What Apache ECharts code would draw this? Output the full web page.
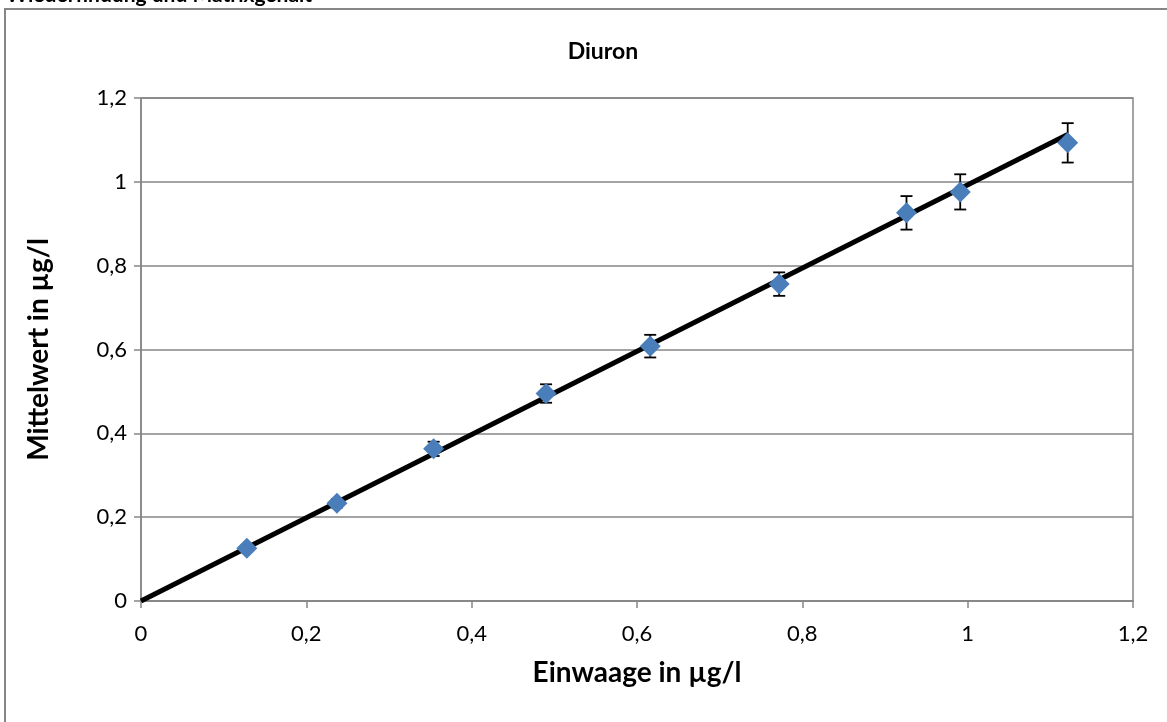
<!DOCTYPE html>
<html>
<head>
<meta charset="utf-8">
<script src="https://cdn.jsdelivr.net/npm/echarts@6/dist/echarts.min.js"></script>
<style>
html,body{margin:0;padding:0;background:#fff;}
#chart{width:1167px;height:722px;}
</style>
</head>
<body>
<div id="chart"></div>
<script>
// Data
const einwaage = [0.128, 0.237, 0.354, 0.490, 0.616, 0.772, 0.926, 0.991, 1.121];
const mittelwert = [0.126, 0.233, 0.363, 0.495, 0.608, 0.756, 0.926, 0.976, 1.093];
const fehler = [0.008, 0.010, 0.017, 0.022, 0.027, 0.028, 0.040, 0.042, 0.047];
const trendX = [0, 1.121];
const trendY = [0, 1.113];
const axisTicks = [0, 0.2, 0.4, 0.6, 0.8, 1, 1.2];
const titleText = 'Diuron';
const topText = 'Wiederfindung und Matrixgehalt';
const xName = 'Einwaage in µg/l';
const yName = 'Mittelwert in µg/l';

const FONT = 'Lato, "Open Sans", sans-serif';
const fmt = v => String(Math.round(v * 10) / 10).replace('.', ',');

const points = einwaage.map((x, i) => [x, mittelwert[i]]);
const errData = einwaage.map((x, i) => [x, mittelwert[i] - fehler[i], mittelwert[i] + fehler[i]]);
const trendData = trendX.map((x, i) => [x, trendY[i]]);

const chart = echarts.init(document.getElementById('chart'), null, {renderer: 'canvas'});
const axisCommon = {
  type: 'value', min: axisTicks[0], max: axisTicks[axisTicks.length - 1], interval: 0.2,
  axisLine: {show: true, onZero: false, lineStyle: {color: '#868686', width: 1.5}},
  axisTick: {show: true, length: 7, lineStyle: {color: '#868686', width: 1.5}},
  axisLabel: {color: '#000', fontFamily: FONT, fontSize: 22, formatter: fmt},
  nameLocation: 'middle',
  nameTextStyle: {color: '#000', fontFamily: FONT, fontSize: 28, fontWeight: 'bold'}
};
chart.setOption({
  animation: false,
  backgroundColor: '#fff',
  title: {text: titleText, left: 598, top: 35, textAlign: 'center',
    textStyle: {fontFamily: FONT, fontSize: 23, fontWeight: 'bold', color: '#000'}},
  grid: {left: 141, right: 34, top: 98, bottom: 121},
  xAxis: Object.assign({}, axisCommon, {
    name: xName, nameGap: 58,
    splitLine: {show: false},
    axisLabel: Object.assign({}, axisCommon.axisLabel, {margin: 22})
  }),
  yAxis: Object.assign({}, axisCommon, {
    name: yName, nameGap: 88,
    splitLine: {show: true, lineStyle: {color: '#868686', width: 1.5}},
    axisLabel: Object.assign({}, axisCommon.axisLabel, {margin: 14})
  }),
  graphic: [
    {type: 'rect', shape: {x: 5, y: 9, width: 1300, height: 900},
      style: {fill: 'none', stroke: '#868686', lineWidth: 2}, z: -10, silent: true},
    {type: 'rect', shape: {x: 141, y: 98, width: 992, height: 503},
      style: {fill: 'none', stroke: '#868686', lineWidth: 1.5}, z: 0, silent: true},
    {type: 'text', left: 6, top: -15,
      style: {text: topText, fontFamily: FONT, fontSize: 21, fontWeight: 'bold', fill: '#000'}}
  ],
  series: [
    {type: 'line', data: trendData, showSymbol: false, symbol: 'none',
      lineStyle: {color: '#000', width: 5}, z: 2, silent: true},
    {type: 'custom', data: errData, z: 3, silent: true,
      renderItem: (params, api) => {
        const x = api.value(0);
        const top = api.coord([x, api.value(2)]);
        const bot = api.coord([x, api.value(1)]);
        const w = 6;
        const st = {stroke: '#000', lineWidth: 1.8};
        return {type: 'group', children: [
          {type: 'line', shape: {x1: top[0], y1: top[1], x2: bot[0], y2: bot[1]}, style: st},
          {type: 'line', shape: {x1: top[0] - w, y1: top[1], x2: top[0] + w, y2: top[1]}, style: st},
          {type: 'line', shape: {x1: bot[0] - w, y1: bot[1], x2: bot[0] + w, y2: bot[1]}, style: st}
        ]};
      }},
    {type: 'scatter', data: points, symbol: 'diamond', symbolSize: [21, 21],
      itemStyle: {color: '#4A7EBB', opacity: 1}, z: 4}
  ]
});
</script>
</body>
</html>
